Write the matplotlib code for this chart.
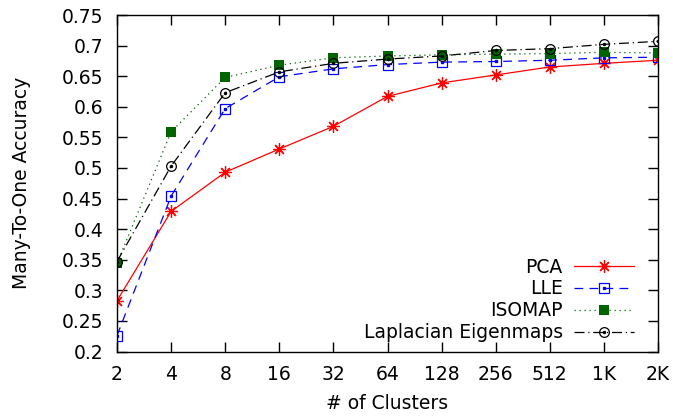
# Many-To-One Accuracy nach Anzahl Cluster

import matplotlib.pyplot as plt

# Daten
clusters = [2, 4, 8, 16, 32, 64, 128, 256, 512, 1024, 2048]
tick_labels = ['2', '4', '8', '16', '32', '64', '128', '256', '512', '1K', '2K']

pca = [0.283, 0.429, 0.493, 0.531, 0.568, 0.617, 0.639, 0.652, 0.665, 0.671, 0.676]
lle = [0.226, 0.454, 0.597, 0.649, 0.662, 0.669, 0.673, 0.674, 0.676, 0.680, 0.681]
isomap = [0.344, 0.559, 0.648, 0.668, 0.680, 0.683, 0.685, 0.686, 0.687, 0.689, 0.688]
laplacian = [0.347, 0.503, 0.623, 0.657, 0.671, 0.678, 0.683, 0.692, 0.695, 0.702, 0.707]

y_ticks = [0.2, 0.25, 0.3, 0.35, 0.4, 0.45, 0.5, 0.55, 0.6, 0.65, 0.7, 0.75]

plt.rcParams['font.family'] = 'DejaVu Sans'
fs = 13.5
fig = plt.figure(figsize=(6.73, 4.19), dpi=100)
ax = fig.add_axes([117 / 673, 1 - 351.5 / 419, 541 / 673, 336.5 / 419])

# Linien
l1, = ax.plot(clusters, pca, color='#ff0000', lw=0.9, ls='-',
              marker=(8, 2, 0), ms=9, mew=0.9, label='PCA')
l2, = ax.plot(clusters, lle, color='#0000ff', lw=0.9, ls=(0, (7, 5)),
              marker='s', ms=7, mfc='none', mew=0.9, label='LLE')
d2, = ax.plot(clusters, lle, ls='none', marker='s', ms=1.5, color='#0000ff')
l3, = ax.plot(clusters, isomap, color='#006400', lw=0.9, ls=(0, (1, 3)),
              marker='s', ms=7.5, mew=0, label='ISOMAP')
l4, = ax.plot(clusters, laplacian, color='black', lw=0.9, ls=(0, (8, 3, 1, 3)),
              marker='o', ms=7, mfc='none', mew=0.9, label='Laplacian Eigenmaps')
d4, = ax.plot(clusters, laplacian, ls='none', marker='o', ms=1.5, color='black')

# Achsen
ax.set_xscale('log', base=2)
ax.set_xlim(2, 2048)
ax.set_ylim(0.2, 0.75)
ax.set_xticks(clusters)
ax.set_xticklabels(tick_labels)
ax.minorticks_off()
ax.set_yticks(y_ticks)
ax.set_yticklabels(['%g' % v for v in y_ticks])
ax.tick_params(direction='in', length=7, width=1, top=True, right=True,
               labelsize=fs, pad=10)
for s in ax.spines.values():
    s.set_linewidth(1)

ax.set_xlabel('# of Clusters', fontsize=fs, labelpad=7)
ax.set_ylabel('Many-To-One Accuracy', fontsize=fs, labelpad=22)

ax.legend([l1, (l2, d2), l3, (l4, d4)],
          ['PCA', 'LLE', 'ISOMAP', 'Laplacian Eigenmaps'],
          loc='lower right', bbox_to_anchor=(0.9556, 0.028),
          markerfirst=False, frameon=False, fontsize=fs,
          handlelength=3.2, handletextpad=0.6, labelspacing=0.15,
          borderpad=0, borderaxespad=0)

plt.savefig('out.png', dpi=100)
